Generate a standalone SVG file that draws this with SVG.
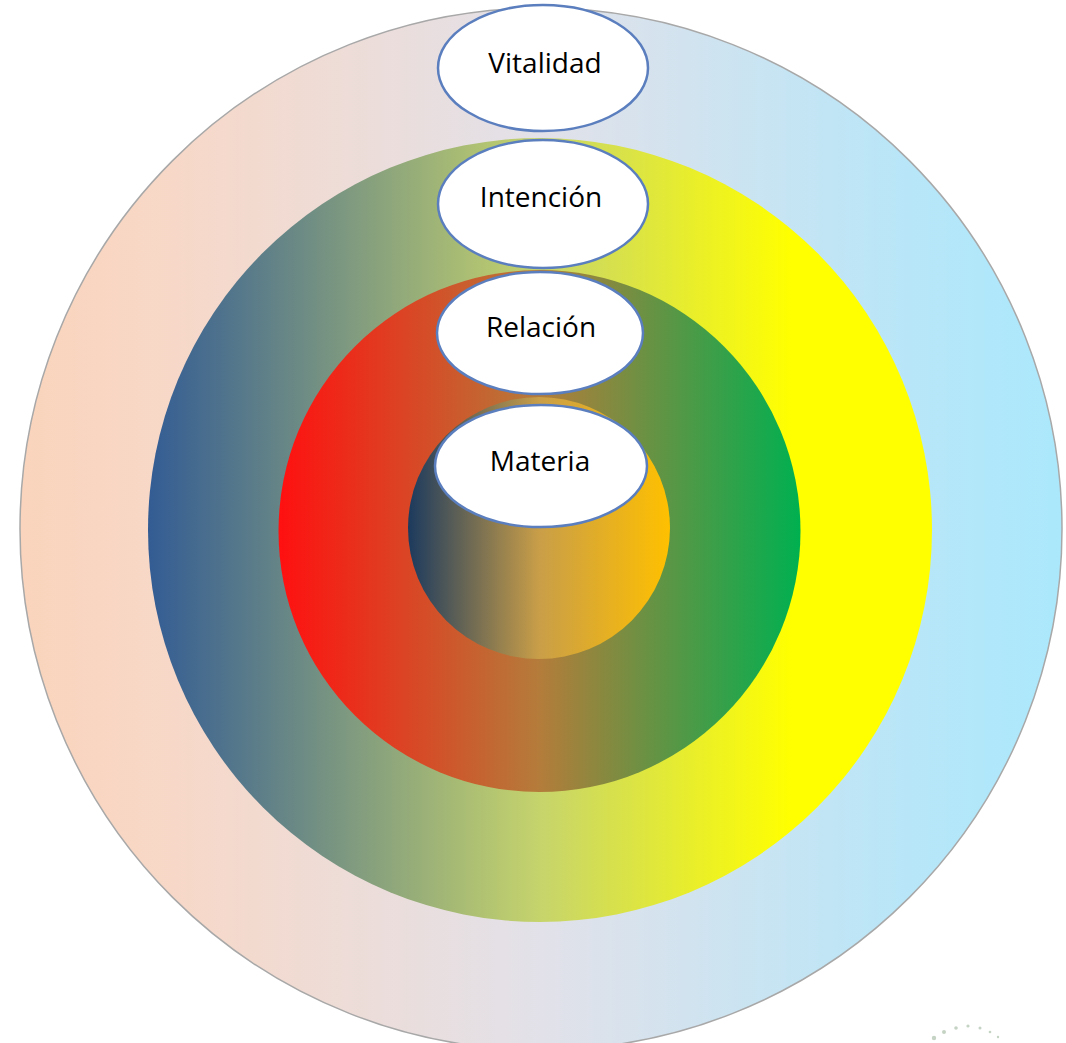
<svg xmlns="http://www.w3.org/2000/svg" width="1066" height="1043" viewBox="0 0 1066 1043">
<defs>
<linearGradient id="g1" x1="0" y1="0" x2="1" y2="0">
<stop offset="0" stop-color="#FAD4BC"/>
<stop offset="0.15" stop-color="#F7D8C8"/>
<stop offset="0.5" stop-color="#E2E1E9"/>
<stop offset="0.85" stop-color="#B8E6F8"/>
<stop offset="1" stop-color="#ABE8FC"/>
</linearGradient>
<linearGradient id="g2" x1="0" y1="0" x2="1" y2="0">
<stop offset="0" stop-color="#335C94"/>
<stop offset="0.5" stop-color="#C6D46C"/>
<stop offset="0.82" stop-color="#FFFF00"/>
<stop offset="1" stop-color="#FFFF00"/>
</linearGradient>
<linearGradient id="g3" x1="0" y1="0" x2="1" y2="0">
<stop offset="0" stop-color="#FF1010"/>
<stop offset="0.5" stop-color="#B47C3A"/>
<stop offset="1" stop-color="#00B050"/>
</linearGradient>
<linearGradient id="g4" x1="0" y1="0" x2="1" y2="0">
<stop offset="0" stop-color="#1C3A5E"/>
<stop offset="0.5" stop-color="#C99E48"/>
<stop offset="1" stop-color="#FFC000"/>
</linearGradient>
<style>
.lbl{fill:#FFFFFF;stroke:#5A7EBE;stroke-width:2.5}
.t{font-family:"Open Sans","Liberation Sans",sans-serif;font-size:28px;fill:#000000;text-anchor:middle}
.dot{fill:#9FB59F;opacity:0.6}
</style>
</defs>
<rect width="1066" height="1043" fill="#FFFFFF"/>
<g id="ring-vitalidad"><circle cx="541" cy="529" r="521" fill="url(#g1)" stroke="#A8A8A8" stroke-width="1.5"/></g>
<g id="ring-intencion"><circle cx="540" cy="530" r="392" fill="url(#g2)"/></g>
<g id="ring-relacion"><circle cx="539.5" cy="531" r="261" fill="url(#g3)"/></g>
<g id="ring-materia"><circle cx="539" cy="528" r="131" fill="url(#g4)"/></g>
<g id="connectors"></g>
<g id="node-vitalidad"><ellipse class="lbl" cx="543" cy="68" rx="105" ry="63"/><text class="t" x="545" y="73">Vitalidad</text></g>
<g id="node-intencion"><ellipse class="lbl" cx="543" cy="204" rx="105" ry="64"/><text class="t" x="541" y="207">Intención</text></g>
<g id="node-relacion"><ellipse class="lbl" cx="540" cy="333" rx="103" ry="61"/><text class="t" x="541" y="337">Relación</text></g>
<g id="node-materia"><ellipse class="lbl" cx="541" cy="466" rx="106" ry="61"/><text class="t" x="540" y="471">Materia</text></g>
<g id="logo-dots">
<circle class="dot" cx="934" cy="1038" r="2.2"/>
<circle class="dot" cx="944" cy="1032" r="2"/>
<circle class="dot" cx="956" cy="1028" r="1.8"/>
<circle class="dot" cx="968" cy="1026" r="1.6"/>
<circle class="dot" cx="980" cy="1028" r="1.5"/>
<circle class="dot" cx="990" cy="1032" r="1.3"/>
<circle class="dot" cx="998" cy="1037" r="1.2"/>
</g>
</svg>
